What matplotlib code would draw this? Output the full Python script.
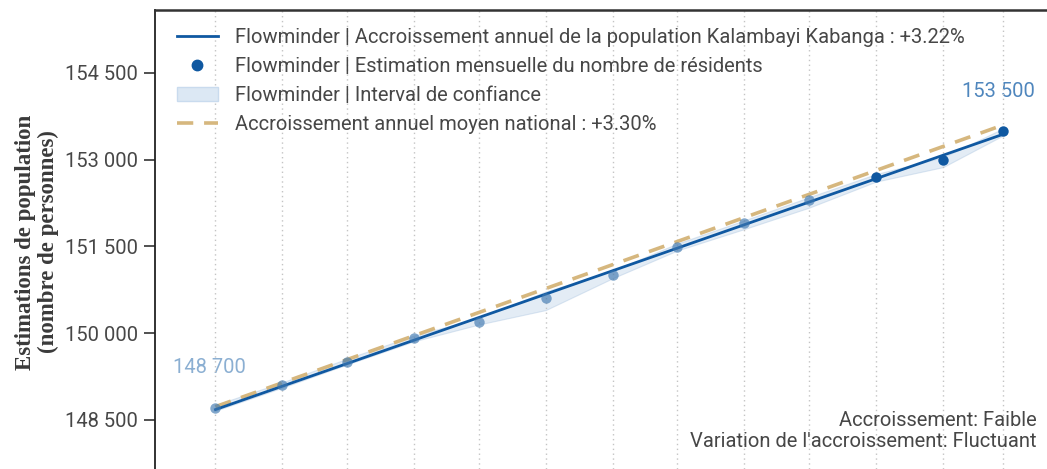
import numpy as np
import pandas as pd
import matplotlib
matplotlib.use('Agg')
import matplotlib.pyplot as plt
import matplotlib.ticker as mticker
from matplotlib.patches import Patch
from matplotlib.lines import Line2D

# monthly estimates (1st of each month)
dates = pd.date_range('2022-03-01', '2023-03-01', freq='MS')
estimates = [148702, 149105, 149507, 149912, 150199, 150603, 151006,
             151495, 151899, 152302, 152694, 152993, 153494]
ci_low = [148660, 149060, 149460, 149860, 150150, 150400, 150950,
          151430, 151800, 152170, 152620, 152870, 153420]
ci_high = [148760, 149150, 149560, 149960, 150260, 150720, 151080,
           151550, 151950, 152350, 152750, 153040, 153540]
point_alpha = [0.65] * 10 + [1.0] * 3

# trend lines (start, end)
trend_dates = [dates[0], dates[-1]]
trend_local = [148680, 153440]
trend_national = [148730, 153600]

yticks = [148500, 150000, 151500, 153000, 154500]
labels_local = 'Flowminder | Accroissement annuel de la population Kalambayi Kabanga : +3.22%'
label_points = 'Flowminder | Estimation mensuelle du nombre de résidents'
label_ci = 'Flowminder | Interval de confiance'
label_nat = 'Accroissement annuel moyen national : +3.30%'
notes = ["Accroissement: Faible", "Variation de l'accroissement: Fluctuant"]

blue = '#0f58a1'
tan = '#d6b77e'
font = 'Roboto'
fs = 14.5
txt = '#474747'

fig = plt.figure(figsize=(10.47, 4.69), dpi=100)
ax = fig.add_axes([155 / 1047, 0.0, 1 - 155 / 1047 + 0.01, 1 - 10 / 469])

ax.fill_between(dates, ci_low, ci_high, color='#b9d0e8', alpha=0.4,
                linewidth=0.8, edgecolor='#a9c3df', zorder=1)
ax.plot(trend_dates, trend_national, color=tan, lw=2.6, ls=(0, (4.5, 3)), zorder=2)
ax.plot(trend_dates, trend_local, color=blue, lw=2.0, zorder=3)
for d, v, a in zip(dates, estimates, point_alpha):
    ax.plot(d, v, 'o', color=blue if a == 1 else '#3f78b0', alpha=a,
            ms=7.5, mec='none', zorder=4)

ax.annotate('148 700', (dates[0], estimates[0]), xytext=(-6, 41),
            textcoords='offset pixels', ha='center', va='center',
            fontsize=fs, color='#8bafd2', family=font, zorder=0.5)
ax.annotate('153 500', (dates[-1], estimates[-1]), xytext=(-5, 39),
            textcoords='offset pixels', ha='center', va='center',
            fontsize=fs, color='#4f86bd', family=font, zorder=0.5)

ax.set_xlim(pd.Timestamp('2022-02-01'), pd.Timestamp('2023-03-26'))
ax.set_ylim(147653, 155585)
ax.set_xticks(dates)
ax.tick_params(axis='x', length=0, labelbottom=False)
ax.grid(axis='x', color='#c4c4c4', ls=(0, (1, 2.5)), lw=1.0, zorder=0)

ax.set_yticks(yticks)
ax.yaxis.set_major_formatter(mticker.FuncFormatter(lambda v, p: f'{int(v):,}'.replace(',', ' ')))
ax.tick_params(axis='y', length=8, width=1.2, color='#333333', direction='out',
               labelsize=fs, labelcolor=txt, pad=4)
for lab in ax.get_yticklabels():
    lab.set_family(font)

ax.spines['right'].set_visible(False)
ax.spines['bottom'].set_visible(False)
ax.spines['top'].set_color('#333333')
ax.spines['top'].set_linewidth(1.8)
ax.spines['left'].set_color('#222222')
ax.spines['left'].set_linewidth(1.3)
ax.spines['left'].set_linestyle((0, (1, 1)))

fig.text(37 / 1047, 1 - 242 / 469, 'Estimations de population\n(nombre de personnes)',
         rotation=90, ha='center', va='center', family='Liberation Serif',
         fontweight='bold', fontsize=16.5, color='#3a3a3a', linespacing=1.12)

handles = [Line2D([], [], color=blue, lw=2.0),
           Line2D([], [], color=blue, marker='o', ls='none', ms=7.5),
           Patch(facecolor='#dce8f4', edgecolor='#c9dbee'),
           Line2D([], [], color=tan, lw=2.6, ls=(0, (4.5, 3)))]
leg = ax.legend(handles, [labels_local, label_points, label_ci, label_nat],
                loc='upper left', bbox_to_anchor=(22 / 892, 1 - 18 / 459),
                frameon=False, prop={'family': font, 'size': fs},
                handlelength=2.0, handletextpad=0.85, labelspacing=0.5,
                borderpad=0, borderaxespad=0)
for t in leg.get_texts():
    t.set_color(txt)

fig.text(1037 / 1047, 1 - 420 / 469, notes[0], ha='right', va='center',
         family=font, fontsize=fs, color=txt)
fig.text(1037 / 1047, 1 - 441 / 469, notes[1], ha='right', va='center',
         family=font, fontsize=fs, color=txt)

fig.savefig('out.png', dpi=100)
